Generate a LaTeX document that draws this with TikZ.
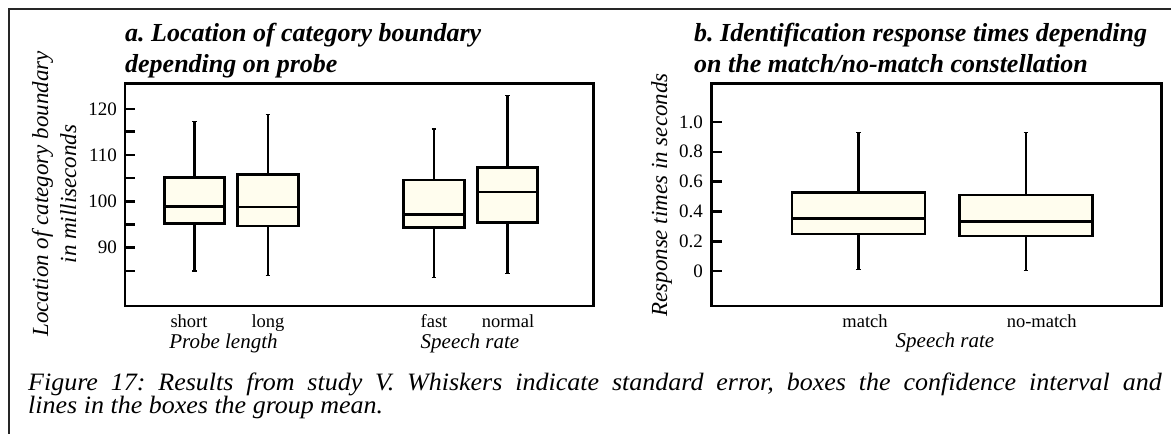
\documentclass[tikz,border=0pt]{standalone}
\usepackage{fontspec}
\setmainfont{Liberation Serif}
\frenchspacing
\definecolor{boxfill}{RGB}{255,253,238}
\tikzset{
 outerln/.style={line width=1.6pt, draw=black!85},
 frame/.style={line width=2.6pt, draw=black},
 bxbody/.style={line width=2.6pt, draw=black, fill=boxfill},
 whisk/.style={line width=2.4pt, draw=black},
 whiskend/.style={line width=1.4pt, draw=black},
 tickln/.style={line width=2.6pt, draw=black},
 ticklab/.style={anchor=east, inner sep=0pt, font=\fontsize{19}{19}\selectfont},
 catlab/.style={anchor=base, inner sep=0pt, font=\fontsize{18.5}{18.5}\selectfont},
 axtitle/.style={anchor=base, inner sep=0pt, font=\fontsize{21}{21}\selectfont\itshape},
 ylab/.style={rotate=90, anchor=base, inner sep=0pt, font=\fontsize{23}{23}\selectfont\itshape},
 ptitle/.style={anchor=base west, inner sep=0pt, font=\fontsize{26}{26}\selectfont\bfseries\itshape},
 captxt/.style={anchor=base west, inner sep=0pt, font=\fontsize{25}{25}\selectfont\itshape},
}
% name, cx, half width, whisker top, box top, median, box bottom, whisker bottom
\newcommand\bxpl[8]{%
  \coordinate (#1-wt) at (#2,#4);
  \coordinate (#1-wb) at (#2,#8);
  \coordinate (#1-bt) at (#2,#5);
  \coordinate (#1-bb) at (#2,#7);
  \draw[whisk] (#1-wt) -- (#1-bt);
  \draw[whisk] (#1-bb) -- (#1-wb);
  \draw[whiskend] (#2-2.3,#4) -- (#2+2.3,#4);
  \draw[whiskend] (#2-2.3,#8) -- (#2+2.3,#8);
  \draw[bxbody] (#2-#3,#5) rectangle (#2+#3,#7);
  \draw[bxbody] (#2-#3,#6) -- (#2+#3,#6);
}
\begin{document}
\begin{tikzpicture}[x=1pt,y=-1pt]
\useasboundingbox (0,0) rectangle (1171,434);
% outer frame
\coordinate (fbl) at (9,434);
\coordinate (ftl) at (9,9);
\coordinate (ftr) at (1171,9);
\draw[outerln] (fbl) -- (ftl) -- (ftr);

% ---------- panel a ----------
\node[ptitle] (ta1) at (125,41) {a. Location of category boundary};
\node[ptitle] (ta2) at (125,72) {depending on probe};
\draw[frame] (125,83.3) rectangle (593.3,306);
\foreach \v/\y in {120/109,115/131.7,110/155,105/178,100/201.7,95/224.5,90/247.7,85/271}
  \draw[tickln] (125,\y) -- (135,\y);
\foreach \v/\y in {120/109,110/155,100/201.7,90/247.7}
  \node[ticklab] (la\v) at (117,\y) {\v};
\bxpl{short}{194.5}{30}{121.7}{177.7}{206.7}{223.3}{271}
\bxpl{long}{268}{30.5}{114.3}{174.7}{207}{226}{275.3}
\bxpl{fast}{434}{30.3}{129}{180}{214.7}{227.7}{277.7}
\bxpl{normal}{507.5}{30.2}{95.7}{167.3}{192}{222.7}{273.3}
\node[catlab] (cshort) at (189,327) {short};
\node[catlab] (clong) at (268,327) {long};
\node[catlab] (cfast) at (434,327) {fast};
\node[catlab] (cnormal) at (508,327) {normal};
\node[axtitle] (xa1) at (223.5,348) {Probe length};
\node[axtitle] (xa2) at (470,348) {Speech rate};
\node[ylab] (ya1) at (48,194) {Location of category boundary};
\node[ylab] (ya2) at (76,194) {in milliseconds};

% ---------- panel b ----------
\node[ptitle] (tb1) at (694,41) {b. Identification response times depending};
\node[ptitle] (tb2) at (694,72) {on the match/no-match constellation};
\draw[frame] (711.7,83.3) rectangle (1161.7,306);
\foreach \v/\y in {0/271,0.2/241.3,0.4/211.5,0.6/181.6,0.8/151.8,1.0/122}
  \draw[tickln] (711.7,\y) -- (721.7,\y);
\foreach \v/\y/\n in {0/271/0,0.2/241.3/2,0.4/211.5/4,0.6/181.6/6,0.8/151.8/8,1.0/122/10}
  \node[ticklab] (lb\n) at (703,\y) {\v};
\bxpl{match}{858.5}{66.5}{132.3}{192.7}{218.3}{234}{269.3}
\bxpl{nomatch}{1026}{66.7}{132.3}{195}{221.3}{236}{270.7}
\node[catlab] (cmatch) at (865,327) {match};
\node[catlab] (cnomatch) at (1041.7,327) {no-match};
\node[axtitle] (xb) at (945,347) {Speech rate};
\node[ylab] (yb) at (667,195) {Response times in seconds};

% ---------- caption ----------
\node[captxt] (cap1) at (28,390) {\scalebox{1.04}[1]{\makebox[1090pt][s]{Figure 17: Results from study V. Whiskers indicate standard error, boxes the confidence interval and}}};
\node[captxt] (cap2) at (28,413) {\scalebox{1.04}[1]{lines in the boxes the group mean.}};
\end{tikzpicture}
\end{document}
